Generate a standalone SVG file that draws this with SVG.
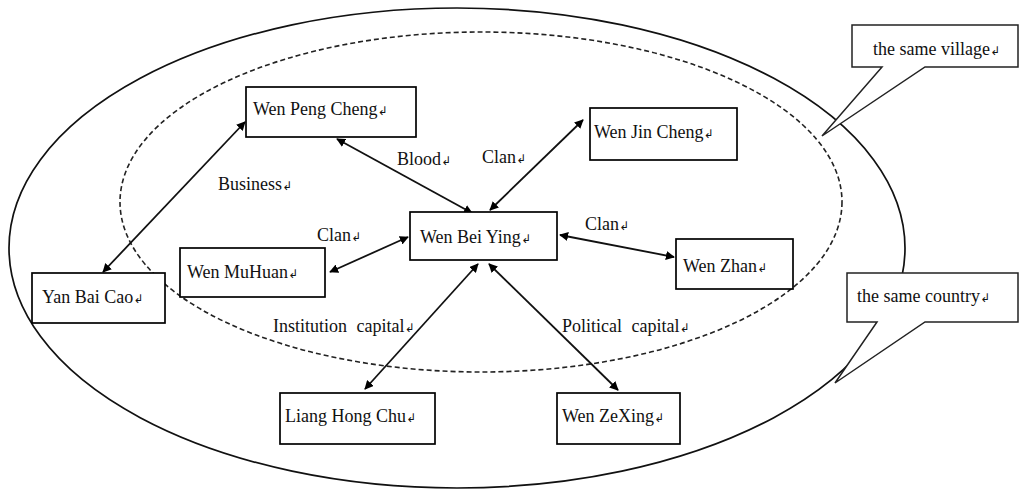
<svg xmlns="http://www.w3.org/2000/svg" width="1020" height="495" viewBox="0 0 1020 495">
<style>
.box{fill:#fff;stroke:#000;stroke-width:1.7}
.t{font-family:"Liberation Serif","Times New Roman",serif;font-size:18px;fill:#111}
.w{word-spacing:5px}
.r{font-family:"DejaVu Sans",sans-serif;font-size:12px}
.c{fill:none;stroke:#111;stroke-width:1.8;marker-start:url(#ah);marker-end:url(#ah)}
.call{fill:#fff;stroke:#222;stroke-width:1.5}
</style>
<defs>
<marker id="ah" viewBox="0 0 10 10" refX="9" refY="5" markerWidth="9" markerHeight="9" orient="auto-start-reverse" markerUnits="userSpaceOnUse">
<path d="M0,0 L10,5 L0,10 z" fill="#000"/>
</marker>
</defs>
<g id="regions">
<ellipse id="country" cx="457" cy="248" rx="448" ry="240" fill="none" stroke="#111" stroke-width="1.7"/>
<ellipse id="village" cx="481" cy="202" rx="361" ry="170" fill="none" stroke="#222" stroke-width="1.6" stroke-dasharray="5,3"/>
</g>
<g id="connectors">
<line class="c" x1="103" y1="272" x2="245" y2="122"/>
<line class="c" x1="337" y1="139" x2="472" y2="213"/>
<line class="c" x1="583" y1="120" x2="490" y2="210"/>
<line class="c" x1="330" y1="272" x2="408" y2="237"/>
<line class="c" x1="560" y1="235" x2="674" y2="257"/>
<line class="c" x1="478" y1="264" x2="365" y2="389"/>
<line class="c" x1="489" y1="264" x2="618" y2="390"/>
</g>
<g id="labels">
<text class="t" x="218" y="190">Business<tspan class="r">↲</tspan></text>
<text class="t" x="397" y="165">Blood<tspan class="r">↲</tspan></text>
<text class="t" x="482" y="163">Clan<tspan class="r">↲</tspan></text>
<text class="t" x="317" y="241">Clan<tspan class="r">↲</tspan></text>
<text class="t" x="585" y="230">Clan<tspan class="r">↲</tspan></text>
<text class="t w" x="273" y="332">Institution capital<tspan class="r">↲</tspan></text>
<text class="t w" x="562" y="332">Political capital<tspan class="r">↲</tspan></text>
</g>
<g id="n-wpc"><rect class="box" x="246" y="87" width="170" height="50"/><text class="t" x="253" y="115">Wen Peng Cheng<tspan class="r">↲</tspan></text></g>
<g id="n-wjc"><rect class="box" x="590" y="108" width="147" height="52"/><text class="t" x="594" y="138">Wen Jin Cheng<tspan class="r">↲</tspan></text></g>
<g id="n-wby"><rect class="box" x="410" y="212" width="147" height="48"/><text class="t" x="420" y="243">Wen Bei Ying<tspan class="r">↲</tspan></text></g>
<g id="n-wmh"><rect class="box" x="180" y="248" width="145" height="49"/><text class="t" x="187" y="278">Wen MuHuan<tspan class="r">↲</tspan></text></g>
<g id="n-wz"><rect class="box" x="676" y="239" width="117" height="50"/><text class="t" x="683" y="272">Wen Zhan<tspan class="r">↲</tspan></text></g>
<g id="n-ybc"><rect class="box" x="32" y="273" width="133" height="50"/><text class="t" x="42" y="303">Yan Bai Cao<tspan class="r">↲</tspan></text></g>
<g id="n-lhc"><rect class="box" x="280" y="393" width="155" height="51"/><text class="t" x="285" y="422">Liang Hong Chu<tspan class="r">↲</tspan></text></g>
<g id="n-wzx"><rect class="box" x="557" y="393" width="123" height="51"/><text class="t" x="562" y="422">Wen ZeXing<tspan class="r">↲</tspan></text></g>
<g id="callout-village"><path class="call" d="M852,25 H1018 V67 H925 L822,136 L882,67 H852 Z"/><text class="t" x="873" y="55">the same village<tspan class="r">↲</tspan></text></g>
<g id="callout-country"><path class="call" d="M847,273 H1018 V322 H925 L835,383 L877,322 H847 Z"/><text class="t" x="857" y="302">the same country<tspan class="r">↲</tspan></text></g>
</svg>
